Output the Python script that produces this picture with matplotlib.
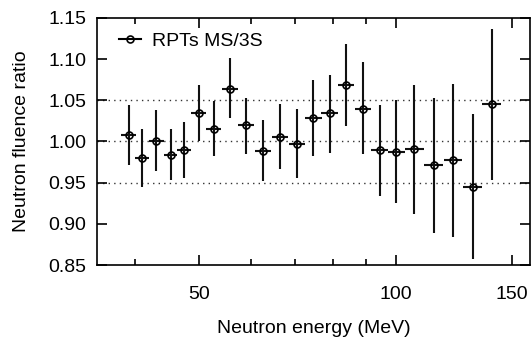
import numpy as np
import matplotlib.pyplot as plt
from matplotlib.lines import Line2D
from matplotlib.ticker import FixedLocator, NullFormatter


# Neutron energy bins (MeV) and fluence ratio RPTs MS/3S
energy = [39.1, 41.0, 43.1, 45.3, 47.5, 50.0, 52.7, 55.8, 59.1, 62.7, 66.6, 70.6,
          74.8, 79.2, 84.0, 89.1, 94.4, 100.1, 106.6, 114.2, 122.2, 130.8, 140.0]
ratio = [1.008, 0.980, 1.001, 0.984, 0.990, 1.035, 1.015, 1.064, 1.020, 0.989, 1.006, 0.997,
         1.028, 1.034, 1.069, 1.040, 0.990, 0.987, 0.991, 0.971, 0.977, 0.945, 1.045]
err_hi = [1.044, 1.015, 1.038, 1.015, 1.024, 1.069, 1.049, 1.101, 1.053, 1.026, 1.045, 1.039,
          1.074, 1.081, 1.118, 1.096, 1.044, 1.050, 1.069, 1.053, 1.070, 1.033, 1.136]
err_lo = [0.972, 0.945, 0.964, 0.953, 0.956, 1.000, 0.982, 1.028, 0.985, 0.952, 0.967, 0.956,
          0.983, 0.986, 1.019, 0.985, 0.934, 0.925, 0.912, 0.889, 0.884, 0.858, 0.953]
bin_half = [1.0, 1.0, 1.1, 1.1, 1.2, 1.3, 1.4, 1.5, 1.7, 1.8, 1.9, 2.0,
            2.2, 2.3, 2.4, 2.6, 2.7, 3.0, 3.5, 3.8, 4.0, 4.3, 4.7]

grid_levels = [0.95, 1.00, 1.05]
major_ticks = [50, 100, 150]
minor_ticks = [40, 60, 70, 80, 90]

plt.rcParams['font.family'] = ['Liberation Sans', 'DejaVu Sans']
plt.rcParams['font.size'] = 14

fig = plt.figure(figsize=(5.31, 3.43), dpi=100)
ax = fig.add_axes([0.183, 0.227, 0.815, 0.721])

e = np.array(energy)
r = np.array(ratio)
yerr = [r - np.array(err_lo), np.array(err_hi) - r]

for lvl in grid_levels:
    ax.axhline(lvl, color='#333333', linestyle=(0, (1, 3)), linewidth=1.0, zorder=0)

ax.errorbar(e, r, yerr=yerr, xerr=bin_half, fmt='o', color='black', ecolor='#111111',
            elinewidth=1.5, capsize=0, markersize=5, markerfacecolor='none',
            markeredgewidth=1.2)

ax.set_xscale('log')
ax.set_xlim(35, 160)
ax.set_ylim(0.85, 1.15)
ax.xaxis.set_major_locator(FixedLocator(major_ticks))
ax.xaxis.set_minor_locator(FixedLocator(minor_ticks))
ax.xaxis.set_major_formatter(plt.FixedFormatter([str(t) for t in major_ticks]))
ax.xaxis.set_minor_formatter(NullFormatter())
ax.set_yticks(np.arange(0.85, 1.151, 0.05))
ax.set_yticklabels([f"{v:.2f}" for v in np.arange(0.85, 1.151, 0.05)])

ax.tick_params(which='major', direction='in', length=7, width=1.2, top=True, right=True)
ax.tick_params(which='minor', direction='in', length=4.5, width=1.2, top=True, right=True)
ax.tick_params(axis='x', which='major', pad=15)
ax.tick_params(axis='y', which='major', pad=8)
for s in ax.spines.values():
    s.set_linewidth(1.2)

ax.set_xlabel('Neutron energy (MeV)', labelpad=12)
ax.set_ylabel('Neutron fluence ratio', labelpad=13)

handle = Line2D([], [], color='black', linewidth=1.5, marker='o', markersize=5,
                markerfacecolor='none', markeredgewidth=1.2)
ax.legend([handle], ['RPTs MS/3S'], loc='upper left', bbox_to_anchor=(0.02, 0.995),
          frameon=False, handlelength=1.1, handletextpad=0.55, borderaxespad=0.3)

fig.savefig('out.png', dpi=100)
